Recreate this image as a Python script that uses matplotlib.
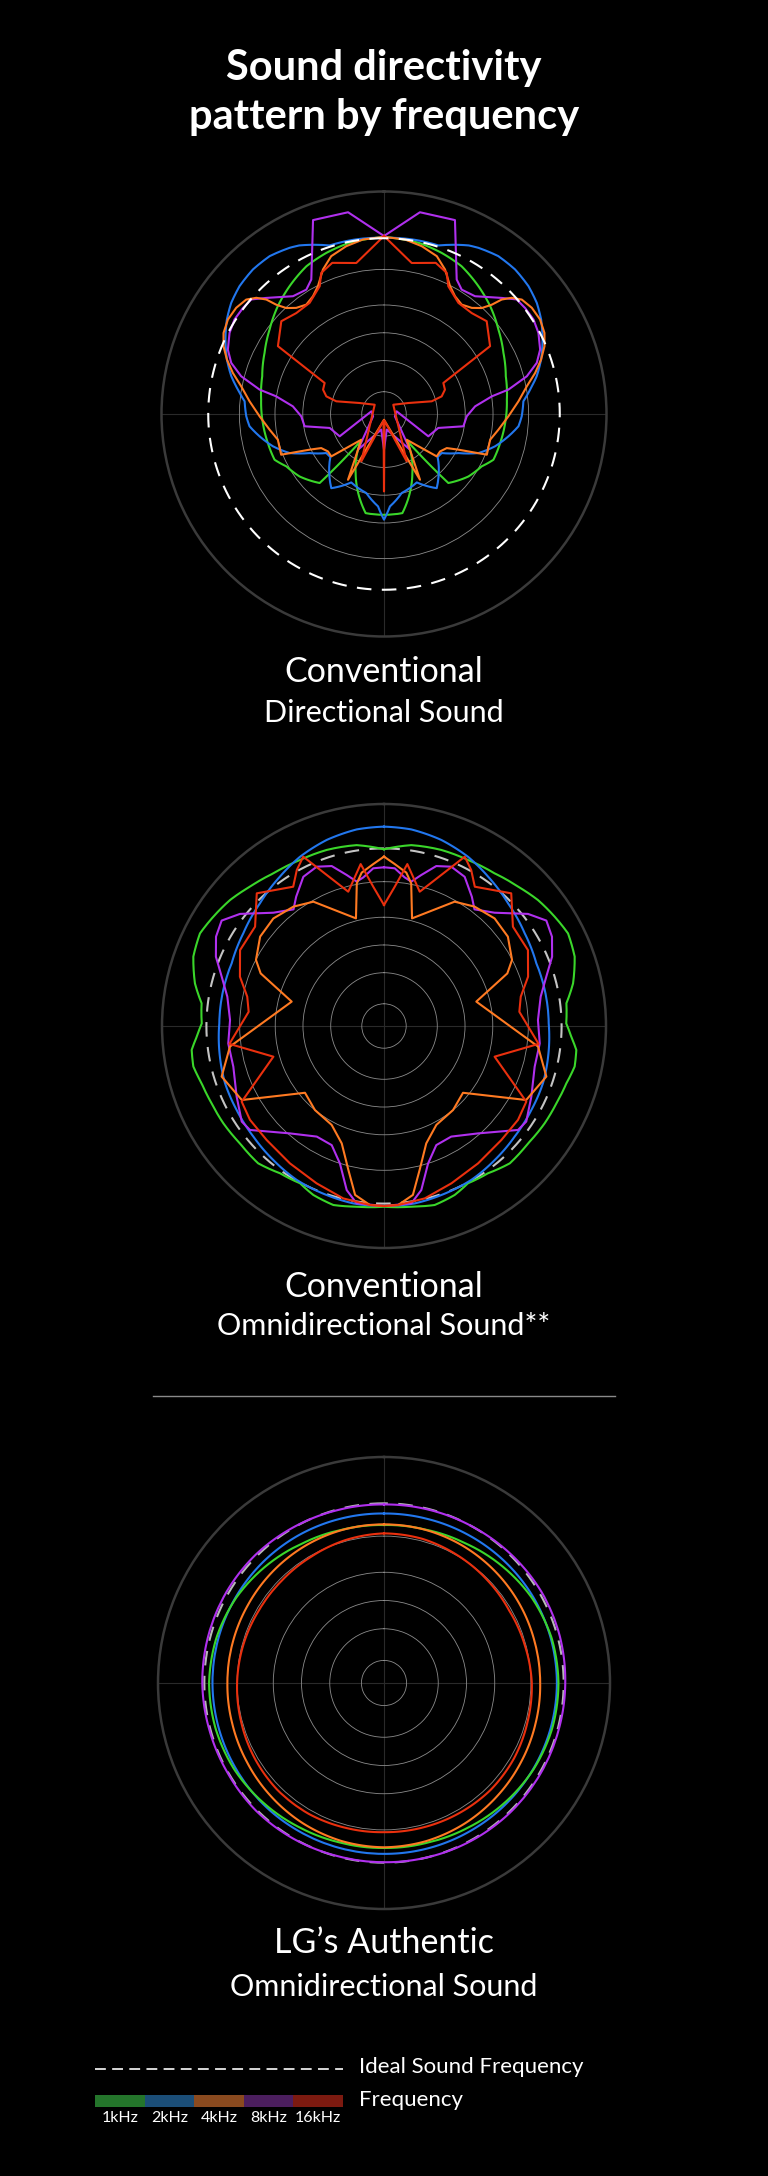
import numpy as np
import matplotlib.pyplot as plt
from matplotlib.lines import Line2D

plt.rcParams['font.family'] = ['Lato', 'DejaVu Sans']

# frequencies and colours
freqs = ['1kHz', '2kHz', '4kHz', '8kHz', '16kHz']
line_colors = ['#3ad62a', '#2277ee', '#ff7a22', '#b030ee', '#ea300e']
bar_colors = ['#24752b', '#1b4e78', '#8a4a1f', '#4b1e5e', '#7c1a10']

# radial grid rings and ideal level (outer circle = 1)
rings = [0.1, 0.24, 0.365, 0.49, 0.65]
ideal_level = [0.79, 0.80, 0.795]

# --- Conventional directional sound: left half (deg from front, level) ---
dir_1k = [(0, .795), (11.4, .785), (19.7, .769), (27.7, .750), (36.5, .714), (44.6, .680),
          (53.6, .639), (62.9, .603), (72.8, .573), (83.3, .556), (94.3, .546), (104.0, .538),
          (112.7, .533), (118.2, .498), (126.5, .472), (137.0, .424), (139.3, .156),
          (154.3, .294), (169.5, .453)]
dir_2k = [(0, .792), (10, .795), (17.9, .796), (26.7, .848), (29.6, .859), (35.9, .876),
          (42.2, .877), (48.5, .867), (54.0, .849), (59.0, .824), (64.9, .787), (70.9, .747),
          (76.1, .707), (80.5, .666), (84.8, .629), (91.0, .619), (95.2, .607), (100.2, .568),
          (106.2, .520), (112.5, .459), (117.7, .378), (124.1, .313), (128.7, .309),
          (144.6, .409), (154.4, .341), (167.4, .364), (176.3, .416), (180, .475)]
dir_4k = [(0, .796), (6.9, .790), (12.7, .773), (18.5, .748), (22.9, .705), (27.3, .647),
          (31.1, .618), (35.4, .603), (39.6, .619), (42.7, .648), (44.6, .690), (45.8, .738),
          (47.7, .776), (50.3, .805), (54.3, .818), (58.8, .820), (63.2, .808), (67.1, .783),
          (70.9, .747), (74.8, .704), (79.0, .654), (84.6, .607), (91.1, .559), (97.8, .519),
          (103.6, .491), (111.6, .497), (115.6, .371), (118.5, .321), (123.7, .303),
          (128.8, .304), (138.6, .154), (151.3, .337), (180, .026)]
dir_8k = [(0, .80), (10.1, .921), (20.1, .928), (28.4, .687), (32.0, .659), (37.7, .669),
          (45.4, .743), (49.2, .788), (53.1, .793), (57.7, .795), (62.3, .784), (67.6, .759),
          (71.5, .724), (75.2, .664), (78.9, .570), (80.7, .491), (85.2, .411), (91.6, .372),
          (98.8, .361), (104.4, .252), (116.7, .223), (78.1, .058), (102, .05), (143.9, .199),
          (170, .071), (180, .16)]
dir_16k = [(0, .80), (10.4, .69), (18.9, .718), (24.0, .694), (26.7, .643), (33.8, .601),
           (41.0, .601), (47.9, .622), (57.4, .566), (62.4, .301), (68.2, .295), (73.0, .271),
           (75.1, .222), (65.7, .120), (45, .059), (154.4, .236), (176, .03), (180, .348)]

# --- Conventional omnidirectional sound: left half ---
omni_1k = [(0, .796), (8.6, .824), (18.0, .834), (26.8, .838), (35.9, .849), (43.9, .871),
           (50.7, .896), (57.4, .913), (63.3, .928), (70.0, .914), (77.3, .873), (82.9, .828),
           (89.2, .821), (93.3, .845), (97.1, .873), (102.0, .878), (107.5, .861), (114.2, .851),
           (121.2, .846), (129.2, .837), (137.5, .839), (144.8, .812), (151.9, .803),
           (157.3, .825), (164.2, .838), (171.4, .823), (180, .814)]
omni_2k = [(0, .898), (7.9, .894), (17.1, .877), (26.4, .851), (34.9, .820), (45.3, .786),
           (56.6, .759), (67.6, .742), (77.4, .742), (89.1, .742), (100.6, .752), (109.8, .761),
           (119.7, .764), (130.3, .771), (140.4, .783), (150.4, .797), (161.3, .804),
           (170.2, .811), (180, .811)]
omni_4k = [(0, .763), (3.8, .731), (8.3, .698), (10.8, .654), (14.6, .501), (29.6, .644),
           (37.2, .675), (45.8, .695), (54.2, .688), (62.7, .649), (66.9, .604), (75.2, .430),
           (97.6, .700), (107.3, .766), (117.5, .722), (130.2, .466), (140.6, .490),
           (152.1, .504), (160.2, .562), (166.1, .668), (170.3, .772), (175.5, .809), (180, .811)]
omni_8k = [(0, .715), (3.9, .712), (7.9, .676), (10.7, .662), (13.9, .701), (18.1, .758),
           (22.9, .779), (28.4, .764), (34.2, .704), (37.8, .665), (44.3, .713), (52.1, .822),
           (57.0, .872), (62.0, .857), (67.6, .819), (73.1, .764), (79.4, .718), (87.8, .694),
           (96.4, .706), (105.1, .703), (115.6, .736), (123.9, .772), (127.8, .764),
           (138.8, .643), (148.7, .583), (156.3, .586), (162.2, .650), (167.2, .758),
           (171.2, .808), (180, .811)]
omni_16k = [(0, .545), (4.4, .629), (8.2, .737), (14.9, .626), (25.5, .845), (29.2, .805),
            (33.1, .749), (43.8, .828), (52.4, .733), (62.2, .733), (71.1, .686), (77.9, .630),
            (84.0, .613), (96.6, .701), (105.5, .517), (118.0, .726), (125.0, .737),
            (134.2, .737), (145.6, .750), (156.8, .771), (166.7, .798), (175.5, .809), (180, .811)]

# --- LG authentic omnidirectional sound: full turn every 15 deg ---
auth_angles = list(range(0, 360, 15))
auth_1k = [.699, .703, .715, .735, .755, .768, .774, .772, .765, .752, .740, .732,
           .730, .732, .740, .752, .764, .771, .772, .768, .755, .735, .715, .703]
auth_2k = [.750, .752, .755, .757, .758, .759, .759, .758, .757, .757, .756, .756,
           .756, .757, .758, .760, .762, .764, .765, .764, .762, .758, .754, .751]
auth_4k = [.702, .702, .700, .697, .694, .693, .693, .695, .700, .708, .717, .724,
           .727, .724, .717, .708, .700, .694, .691, .691, .694, .697, .700, .702]
auth_8k = [.790, .792, .797, .803, .805, .805, .804, .800, .798, .800, .797, .793,
           .793, .795, .798, .800, .800, .800, .802, .805, .805, .800, .795, .792]
auth_16k = [.662, .655, .645, .640, .640, .645, .650, .655, .662, .668, .668, .663,
            .660, .662, .665, .668, .665, .658, .654, .645, .640, .645, .652, .660]

W, H = 768, 2176
fig = plt.figure(figsize=(W / 100, H / 100), dpi=100, facecolor='black')


def make_polar(cx, cy, rad):
    ax = fig.add_axes([(cx - rad) / W, 1 - (cy + rad) / H, 2 * rad / W, 2 * rad / H],
                      projection='polar')
    ax.set_facecolor('black')
    ax.set_theta_zero_location('N')
    ax.set_theta_direction(1)
    ax.set_ylim(0, 1)
    ax.set_yticks(rings)
    ax.set_xticks(np.radians([0, 90, 180, 270]))
    ax.set_xticklabels([])
    ax.set_yticklabels([])
    ax.tick_params(length=0)
    ax.xaxis.grid(True, color='#2a2a2a', lw=0.8)
    ax.yaxis.grid(True, color='#8c8c8c', lw=0.6)
    ax.spines['polar'].set_color('#3a3a3a')
    ax.spines['polar'].set_linewidth(1.8)
    return ax


def draw_half(ax, pts, color, smooth=False):
    # left half as read, right half is its mirror image (360 - angle)
    a = [p[0] for p in pts]
    r = [p[1] for p in pts]
    a = a + [360 - x for x in a[::-1]]
    r = r + r[::-1]
    ln, = ax.plot(np.radians(a), r, color=color, lw=1.5, solid_joinstyle='round', zorder=3)
    if smooth:
        # follow the polar grid between measured angles instead of chords
        ln.get_path()._interpolation_steps = 12


def draw_ideal(ax, level, color, z):
    t = np.linspace(0, 2 * np.pi, 361)
    ax.plot(t, [level] * len(t), color=color, lw=1.5, ls=(0, (7, 5)), zorder=z)


order = [0, 1, 3, 2, 4]  # drawing order: 1k, 2k, 8k, 4k, 16k

# plot 1
ax1 = make_polar(384, 414, 222.5)
draw_ideal(ax1, ideal_level[0], 'white', 4)
dir_all = [dir_1k, dir_2k, dir_4k, dir_8k, dir_16k]
for i in order:
    draw_half(ax1, dir_all[i], line_colors[i], smooth=(i < 2))

# plot 2
ax2 = make_polar(384, 1026, 222)
draw_ideal(ax2, ideal_level[1], '#c4c4c4', 2)
omni_all = [omni_1k, omni_2k, omni_4k, omni_8k, omni_16k]
for i in order:
    draw_half(ax2, omni_all[i], line_colors[i], smooth=(i < 2))

# plot 3
ax3 = make_polar(384, 1683, 226)
draw_ideal(ax3, ideal_level[2], '#b8b8b8', 2)
t3 = np.radians(auth_angles + [360])
auth_all = [auth_1k, auth_2k, auth_4k, auth_8k, auth_16k]
for i in [3, 1, 0, 2, 4]:
    vals = auth_all[i]
    ln, = ax3.plot(t3, vals + [vals[0]], color=line_colors[i], lw=1.5, zorder=3)
    ln.get_path()._interpolation_steps = 30

# texts
fig.text(0.5, 1 - 68 / H, 'Sound directivity', color='white', fontsize=30,
         fontweight='bold', ha='center', va='center')
fig.text(0.5, 1 - 117 / H, 'pattern by frequency', color='white', fontsize=30,
         fontweight='bold', ha='center', va='center')

labels = [('Conventional', 'Directional Sound', 672, 713),
          ('Conventional', 'Omnidirectional Sound**', 1287, 1326),
          ('LG\u2019s Authentic', 'Omnidirectional Sound', 1943, 1987)]
for l1, l2, y1, y2 in labels:
    fig.text(0.5, 1 - y1 / H, l1, color='white', fontsize=24.5,
             ha='center', va='center')
    fig.text(0.5, 1 - y2 / H, l2, color='white', fontsize=22,
             ha='center', va='center')

fig.add_artist(Line2D([153 / W, 615 / W], [1 - 1396 / H, 1 - 1396 / H],
                      color='#8a8a8a', lw=1.0, transform=fig.transFigure))

# legend
lax = fig.add_axes([95 / W, 1 - 2107 / H, 248 / W, 12 / H])
lax.set_facecolor('black')
lax.bar(range(5), [1] * 5, width=1.0, color=bar_colors)
lax.set_xlim(-0.5, 4.5)
lax.set_ylim(0, 1)
lax.set_xticks(range(5))
lax.set_xticklabels(freqs, color='white', fontsize=11.5)
lax.set_yticks([])
lax.tick_params(length=0, pad=3)
for s in lax.spines.values():
    s.set_visible(False)
lax.plot([-0.5, 4.5], [3.17, 3.17], ls=(0, (6, 3.5)), color='#e8e8e8', lw=1.3, clip_on=False)

fig.text(359 / W, 1 - 2067 / H, 'Ideal Sound Frequency', color='white', fontsize=16,
         ha='left', va='center')
fig.text(359 / W, 1 - 2100 / H, 'Frequency', color='white', fontsize=16,
         ha='left', va='center')

fig.savefig('out.png', dpi=100, facecolor='black')
